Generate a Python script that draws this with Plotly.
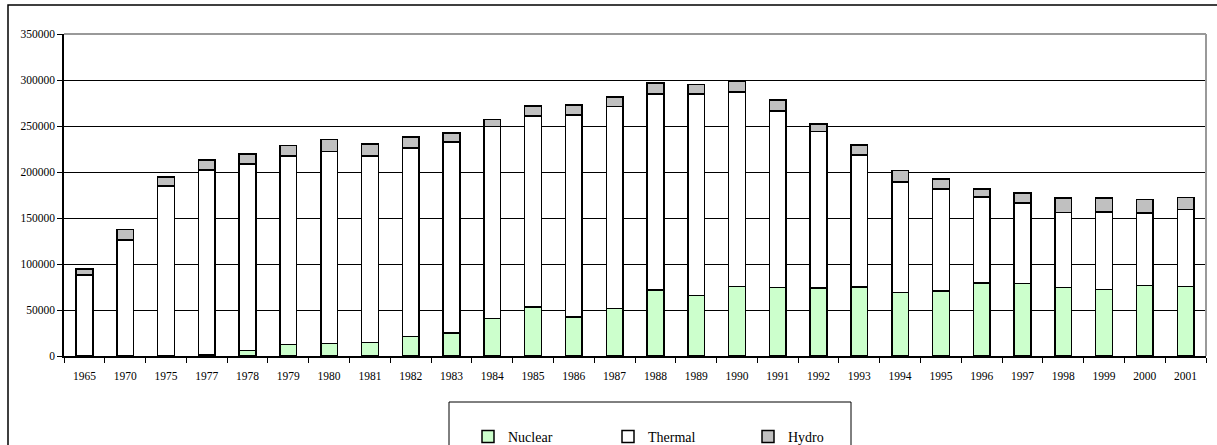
import plotly.graph_objects as go

years = ["1965", "1970", "1975", "1977", "1978", "1979", "1980", "1981", "1982", "1983",
         "1984", "1985", "1986", "1987", "1988", "1989", "1990", "1991", "1992", "1993",
         "1994", "1995", "1996", "1997", "1998", "1999", "2000", "2001"]
nuclear = [0, 0, 0, 1000, 5900, 12400, 13800, 14900, 21400, 25000,
           40700, 53000, 42400, 51900, 71800, 66000, 75500, 74400, 73700, 75100,
           69000, 70400, 79400, 78700, 74700, 72200, 76600, 75800]
thermal = [88100, 125900, 184600, 201400, 202700, 205200, 208600, 202400, 204600, 207800,
           208500, 208100, 219500, 219400, 212900, 218700, 211700, 191800, 170400, 143300,
           120300, 111000, 93300, 87800, 81300, 84500, 78600, 83500]
hydro = [6200, 11600, 9800, 10900, 10800, 11300, 13000, 13400, 11900, 9800,
         8000, 10900, 11200, 10200, 12000, 10600, 11300, 12000, 8300, 11200,
         12400, 10800, 9000, 10500, 15900, 14900, 14900, 13000]
y_ticks = [0, 50000, 100000, 150000, 200000, 250000, 300000, 350000]

W, H = 1217, 445
ML, MR, MT, MB = 64, 11, 34, 89
PW, PH = W - ML - MR, H - MT - MB

def px(x):
    return (x - ML) / PW

def py(y):
    return (H - MB - y) / PH

line = dict(color="black", width=1.5)
fig = go.Figure()
fig.add_trace(go.Bar(x=years, y=nuclear, name="Nuclear",
                     marker=dict(color="#ccffcc", line=line)))
fig.add_trace(go.Bar(x=years, y=thermal, name="Thermal",
                     marker=dict(color="#ffffff", line=line)))
fig.add_trace(go.Bar(x=years, y=hydro, name="Hydro",
                     marker=dict(color="#c0c0c0", line=line)))

font = "Liberation Serif, Times New Roman, serif"
fig.update_layout(
    width=W, height=H, autosize=False,
    margin=dict(l=ML, r=MR, t=MT, b=MB, pad=0),
    paper_bgcolor="white", plot_bgcolor="white",
    barmode="stack", bargap=0.59,
    font=dict(family=font, size=11.5, color="black"),
    showlegend=True,
    legend=dict(orientation="h", traceorder="normal",
                xref="container", yref="container",
                x=468 / W, xanchor="left", y=1 - 421 / H, yanchor="top",
                bgcolor="rgba(0,0,0,0)", borderwidth=0,
                font=dict(family=font, size=14, color="black"),
                entrywidth=95, entrywidthmode="pixels"),
    xaxis=dict(type="category", showgrid=False, showline=True, linecolor="black",
               linewidth=1.5, ticks="outside", tickson="boundaries", ticklen=5,
               tickcolor="black", tickwidth=1, ticklabelstandoff=8,
               tickfont=dict(family=font, size=11.5)),
    yaxis=dict(range=[0, 350000], tickvals=y_ticks, showgrid=True, gridcolor="black",
               gridwidth=1, showline=True, linecolor="black", linewidth=1.5,
               ticks="outside", ticklen=5, tickcolor="black", zeroline=False,
               tickformat="d", tickfont=dict(family=font, size=11.5)),
    shapes=[
        dict(type="line", xref="paper", yref="paper", x0=0, x1=1, y0=1, y1=1,
             line=dict(color="#999999", width=2)),
        dict(type="line", xref="paper", yref="paper", x0=1, x1=1, y0=0, y1=1,
             line=dict(color="#999999", width=2)),
        dict(type="rect", xref="paper", yref="paper", x0=px(8), x1=px(1240),
             y0=py(470), y1=py(5), line=dict(color="black", width=1.5)),
        dict(type="rect", xref="paper", yref="paper", x0=px(449), x1=px(851),
             y0=py(470), y1=py(402), line=dict(color="black", width=1)),
    ],
)

fig.write_html("out.html", config={"displayModeBar": False},
               post_script="document.body.style.margin='0';document.body.style.overflow='hidden';")
